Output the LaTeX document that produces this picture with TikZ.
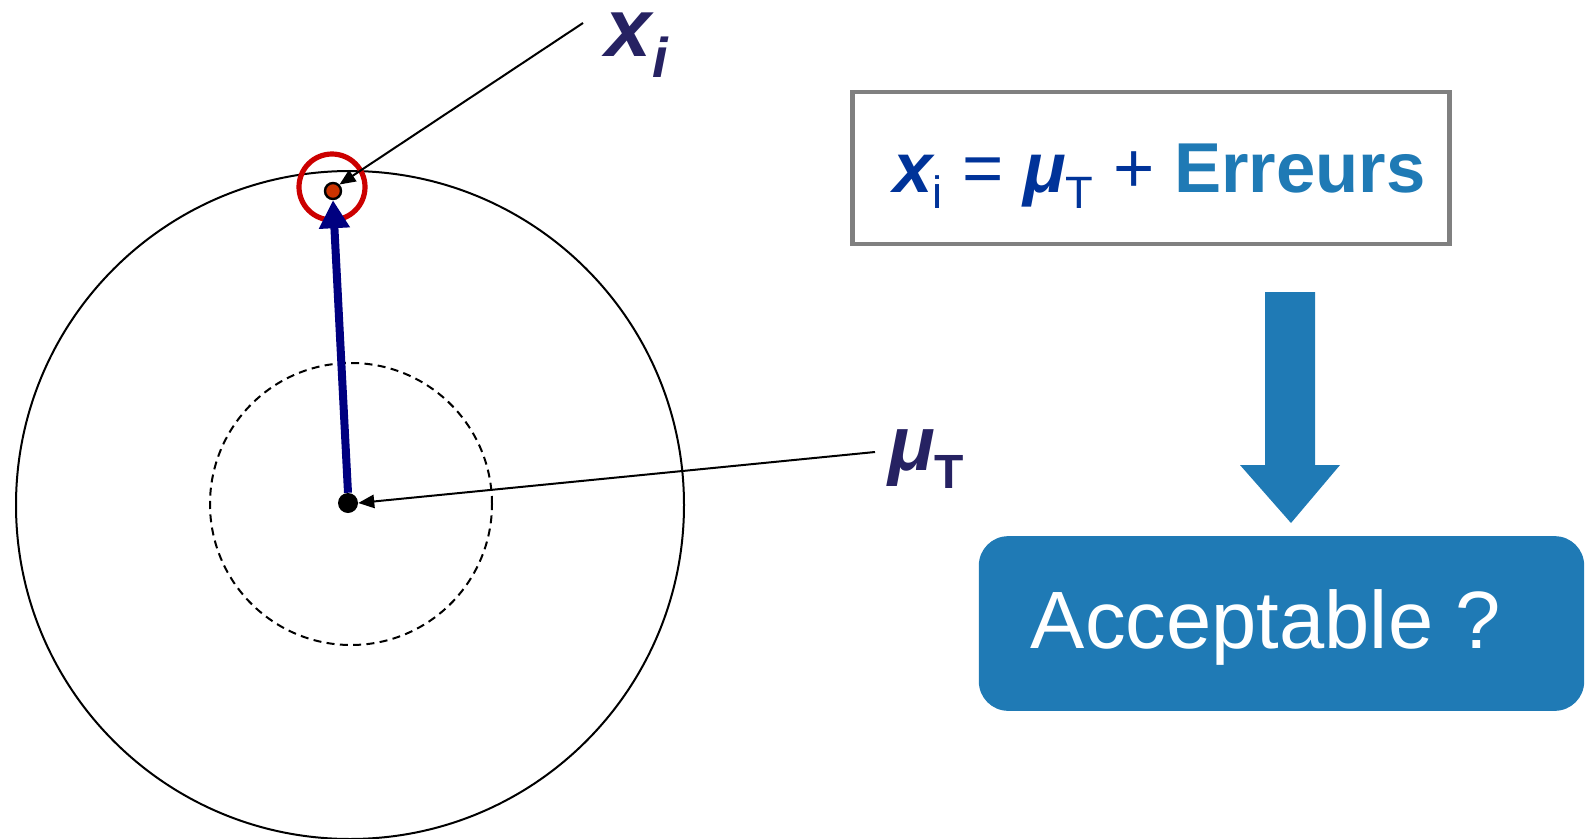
\documentclass[tikz,border=0pt]{standalone}
\usepackage{fontspec}
\setmainfont{Liberation Sans}
\usetikzlibrary{arrows.meta}
\definecolor{labnavy}{RGB}{38,34,98}
\definecolor{fblue}{RGB}{0,51,153}
\definecolor{steel}{RGB}{31,122,181}
\definecolor{boxgray}{RGB}{128,128,128}
\definecolor{arrnavy}{RGB}{0,0,128}
\definecolor{ringred}{RGB}{204,0,0}
\definecolor{dotred}{RGB}{204,51,0}
\tikzset{
  ringline/.style={draw=black, line width=1.5pt, circle, inner sep=0pt},
  leader/.style={draw=black, line width=1.5pt, -{Triangle[length=12pt,width=10pt]}},
  lab/.style={inner sep=0pt, anchor=base west, text=labnavy},
}
\begin{document}
\begin{tikzpicture}[x=0.75pt,y=-0.75pt]
\useasboundingbox (0,0) rectangle (1586,839);
% circles
\node[ringline, minimum size=501pt] (big) at (350,505) {};
\node[ringline, dashed, dash pattern=on 6pt off 4pt, minimum size=211.5pt] (small) at (351,504) {};
% dots
\node[circle, fill=black, inner sep=0pt, minimum size=15pt] (c) at (348,503) {};
\node[circle, fill=dotred, draw=black, line width=1.8pt, inner sep=0pt, minimum size=12pt] (xi) at (333,191) {};
\node[circle, draw=ringred, line width=3.9pt, inner sep=0pt, minimum size=49.5pt] (ring) at (332,187) {};
% blue vector
\draw[arrnavy, line width=6pt, -{Triangle[length=21pt,width=22pt]}] (c.north) -- (xi.south);
% labels
\node[lab] (xilab) at (605,56) {\fontsize{62}{62}\selectfont\bfseries\itshape x\kern1pt\raisebox{-16pt}{\fontsize{42}{42}\selectfont i}};
\node[lab] (mulab) at (888,470) {\fontsize{58}{58}\selectfont\bfseries\itshape μ\raisebox{-14pt}{\upshape\fontsize{36}{36}\selectfont T}};
\coordinate (xistart) at (583,23);
\coordinate (mustart) at (875,452);
\draw[leader] (xistart) -- (xi.north east);
\draw[leader] (mustart) -- (c.east);
% formula box
\node[draw=boxgray, line width=3.5pt, minimum width=448pt, minimum height=114pt, inner sep=0pt] (formula) at (1151,168) {};
\node[inner sep=0pt, anchor=base west, text=fblue] (ftext) at (893,192) {\fontsize{53}{53}\selectfont{\bfseries\itshape x}\raisebox{-12pt}{\fontsize{34}{34}\selectfont i} = {\bfseries\itshape μ}\raisebox{-12pt}{\fontsize{34}{34}\selectfont T} + {\bfseries\color{steel}Erreurs}};
% block arrow
\fill[steel] (1265,292) -- (1315,292) -- (1315,465) -- (1340,465) -- (1291,523) -- (1240,465) -- (1265,465) -- cycle;
% acceptable box
\node[fill=steel, rounded corners=22pt, minimum width=454pt, minimum height=131pt, inner sep=0pt] (acc) at (1281.5,623.5) {};
\node[inner sep=0pt, anchor=base, text=white] (acctext) at (1266,648) {\fontsize{61}{61}\selectfont Acceptable ?};
\end{tikzpicture}
\end{document}
